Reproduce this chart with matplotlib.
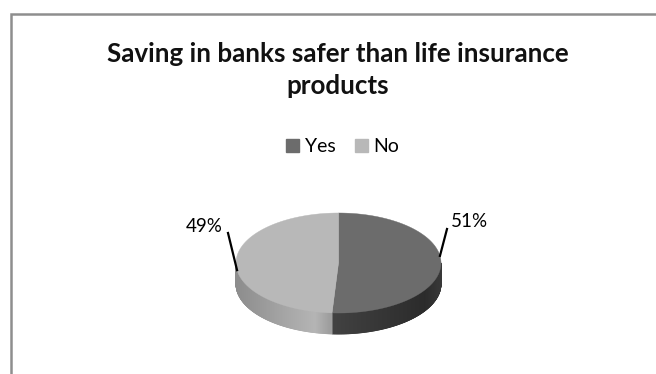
import numpy as np
import matplotlib.pyplot as plt
from matplotlib.collections import PolyCollection
from matplotlib.patches import Patch

plt.rcParams["font.family"] = ["Lato", "DejaVu Sans"]

categories = ["Yes", "No"]
shares = [51, 49]
title = "Saving in banks safer than life insurance\nproducts"

TOP = {"Yes": "#6c6c6c", "No": "#b8b8b8"}
# side shading as (x in px, grey level)
SIDE = {"Yes": ([330, 425, 441], [0.26, 0.17, 0.22]),
        "No": ([236, 316, 330], [0.55, 0.71, 0.62])}
LABEL_AT = {"Yes": (469, 221), "No": (204, 226)}
LEADER_FROM = {"Yes": (447, 229), "No": (228, 233)}

# pie ellipse in px
CX, CY, RX, RY, DEPTH = 338.5, 263, 102.5, 50, 21


def ell(theta):
    t = np.radians(theta)
    return CX + RX * np.cos(t), CY - RY * np.sin(t)


fig = plt.figure(figsize=(6.56, 3.74), dpi=100)
ax = fig.add_axes([0, 0, 1, 1])
ax.set_xlim(0, 656)
ax.set_ylim(374, 0)
ax.axis("off")

# chart frame
ax.plot([10.5, 10.5, 660], [380, 13.5, 13.5], color="#8e8e8e", lw=1.8,
        solid_joinstyle="miter")

fracs = np.array(shares) / sum(shares)
ends = 90 - 360 * np.cumsum(fracs)
starts = np.r_[90, ends[:-1]]

for cat, a0, a1 in zip(categories, starts, ends):
    # visible front wall
    lo, hi = max(a1, -180), min(a0, 0)
    if hi > lo:
        th = np.linspace(lo, hi, 240)
        x, y = ell(th)
        polys = [[(x[i], y[i]), (x[i + 1], y[i + 1]),
                  (x[i + 1], y[i + 1] + DEPTH), (x[i], y[i] + DEPTH)]
                 for i in range(len(th) - 1)]
        xs, vs = SIDE[cat]
        g = np.interp((x[:-1] + x[1:]) / 2, xs, vs)
        cols = [(v, v, v) for v in g]
        ax.add_collection(PolyCollection(polys, facecolors=cols,
                                         edgecolors=cols, linewidths=0.6))

for cat, a0, a1 in zip(categories, starts, ends):
    th = np.linspace(a0, a1, 240)
    x, y = ell(th)
    ax.fill(np.r_[CX, x], np.r_[CY, y], color=TOP[cat], lw=0.3,
            ec=TOP[cat])

# labels with leader lines
for cat, share, a0, a1 in zip(categories, shares, starts, ends):
    mid = (a0 + a1) / 2
    anchor = ell(mid + 10 * np.sign(90 - mid))
    sx, sy = LEADER_FROM[cat]
    ax.plot([sx, anchor[0]], [sy, anchor[1]], color="black", lw=1.6)
    ax.text(*LABEL_AT[cat], f"{share}%", ha="center", va="center",
            fontsize=13.5, color="black")

fig.text(338 / 656, 1 - 42 / 374, title, ha="center", va="top",
         fontsize=18.7, fontweight="bold", linespacing=1.4, color="#111111")

handles = [Patch(color=TOP[c]) for c in categories]
fig.legend(handles, categories, loc="center", ncol=2, frameon=False,
           bbox_to_anchor=(343 / 656, 1 - 147 / 374), fontsize=14,
           handlelength=0.65, handleheight=0.65, handletextpad=0.3,
           columnspacing=1.0)

fig.savefig("out.png", dpi=100)
